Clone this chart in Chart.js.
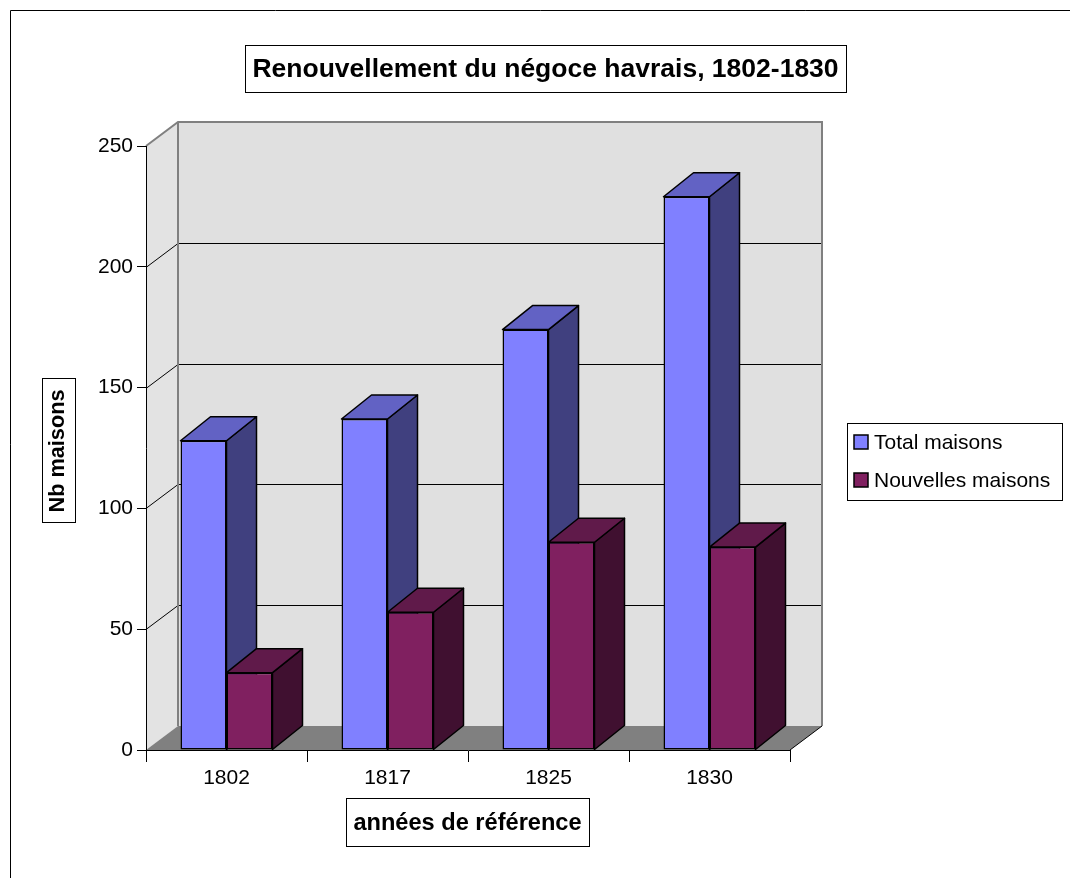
<!DOCTYPE html>
<html lang="fr">
<head>
<meta charset="utf-8">
<title>Renouvellement du négoce havrais, 1802-1830</title>
<script src="https://cdn.jsdelivr.net/npm/chart.js@4/dist/chart.umd.min.js"></script>
<style>
  html, body { margin: 0; padding: 0; background: #ffffff; }
  #wrap { width: 1070px; height: 878px; position: relative; }
</style>
</head>
<body>
<div id="wrap"><canvas id="c" width="1070" height="878"></canvas></div>
<script>
// Data
const years = ['1802', '1817', '1825', '1830'];
const totalMaisons = [128, 137, 174, 229];
const nouvellesMaisons = [32, 57, 86, 84];
const yTicks = [0, 50, 100, 150, 200, 250];

const chartTitle = 'Renouvellement du négoce havrais, 1802-1830';
const xTitle = 'années de référence';
const yTitle = 'Nb maisons';
const seriesNames = ['Total maisons', 'Nouvelles maisons'];

// Face colours: front, side, top
const faces = [
  { front: '#8080ff', side: '#40407f', top: '#6262c4' },
  { front: '#802060', side: '#401030', top: '#601a4a' }
];

const FONT = '"Liberation Sans", Arial, sans-serif';
const WALL_DX = 32, WALL_DY = -24;   // depth of walls / floor
const BAR_DX = 30, BAR_DY = -24;     // depth of the columns

function poly(ctx, pts, fill, stroke, lw) {
  ctx.beginPath();
  ctx.moveTo(pts[0][0], pts[0][1]);
  for (let i = 1; i < pts.length; i++) ctx.lineTo(pts[i][0], pts[i][1]);
  ctx.closePath();
  if (fill) { ctx.fillStyle = fill; ctx.fill(); }
  if (stroke) { ctx.strokeStyle = stroke; ctx.lineWidth = lw || 1; ctx.stroke(); }
}

function textBox(ctx, x, y, w, h, text, font, rotate) {
  ctx.save();
  ctx.fillStyle = '#ffffff';
  ctx.fillRect(x, y, w, h);
  ctx.strokeStyle = '#000000';
  ctx.lineWidth = 1;
  ctx.strokeRect(x + 0.5, y + 0.5, w, h);
  ctx.fillStyle = '#000000';
  ctx.font = font;
  ctx.textAlign = 'center';
  ctx.textBaseline = 'middle';
  ctx.translate(x + w / 2, y + h / 2 + 1);
  if (rotate) ctx.rotate(-Math.PI / 2);
  ctx.fillText(text, 0, 0);
  ctx.restore();
}

// Walls, floor and back gridlines (drawn beneath the axes)
const wallsPlugin = {
  id: 'walls3d',
  beforeDraw(chart) {
    const ctx = chart.ctx;
    const a = chart.chartArea;
    const ys = chart.scales.y;
    ctx.save();
    ctx.fillStyle = '#ffffff';
    ctx.fillRect(0, 0, chart.width, chart.height);

    // outer frame
    ctx.strokeStyle = '#000000';
    ctx.lineWidth = 1;
    ctx.beginPath();
    ctx.moveTo(10.5, chart.height);
    ctx.lineTo(10.5, 10.5);
    ctx.lineTo(chart.width, 10.5);
    ctx.stroke();

    const L = a.left, R = a.right, T = a.top, B = a.bottom;
    // side wall
    poly(ctx, [[L, T], [L + WALL_DX, T + WALL_DY], [L + WALL_DX, B + WALL_DY], [L, B]], '#e3e3e3');
    // back wall
    poly(ctx, [[L + WALL_DX, T + WALL_DY], [R + WALL_DX, T + WALL_DY], [R + WALL_DX, B + WALL_DY], [L + WALL_DX, B + WALL_DY]], '#e0e0e0');
    // floor
    poly(ctx, [[L, B], [R, B], [R + WALL_DX, B + WALL_DY], [L + WALL_DX, B + WALL_DY]], '#808080');

    // gridlines on side and back walls
    ctx.strokeStyle = '#000000';
    ctx.lineWidth = 1;
    yTicks.forEach(v => {
      if (v === 0 || v === 250) return;
      const y = Math.round(ys.getPixelForValue(v)) + 0.5;
      ctx.beginPath();
      ctx.moveTo(L, y);
      ctx.lineTo(L + WALL_DX, y + WALL_DY);
      ctx.lineTo(R + WALL_DX, y + WALL_DY);
      ctx.stroke();
    });

    // wall edges
    ctx.strokeStyle = '#808080';
    ctx.lineWidth = 2;
    ctx.beginPath();
    ctx.moveTo(L, T);
    ctx.lineTo(L + WALL_DX, T + WALL_DY);
    ctx.lineTo(R + WALL_DX, T + WALL_DY);
    ctx.lineTo(R + WALL_DX, B + WALL_DY);
    ctx.moveTo(L + WALL_DX, T + WALL_DY);
    ctx.lineTo(L + WALL_DX, B + WALL_DY);
    ctx.stroke();
    ctx.strokeStyle = '#000000';
    ctx.lineWidth = 1;
    ctx.beginPath();
    ctx.moveTo(R, B);
    ctx.lineTo(R + WALL_DX, B + WALL_DY);
    ctx.stroke();
    ctx.restore();
  },
  // side and top faces of each column, placed before the front faces
  beforeDatasetsDraw(chart) {
    const ctx = chart.ctx;
    ctx.save();
    ctx.lineJoin = 'round';
    chart.data.datasets.forEach((ds, di) => {
      const meta = chart.getDatasetMeta(di);
      const f = faces[di];
      meta.data.forEach(bar => {
        const p = bar.getProps(['x', 'y', 'base', 'width'], true);
        const l = p.x - p.width / 2, r = p.x + p.width / 2;
        const t = p.y, b = p.base;
        poly(ctx, [[r, t], [r + BAR_DX, t + BAR_DY], [r + BAR_DX, b + BAR_DY], [r, b]], f.side, '#000000', 1.5);
        poly(ctx, [[l, t], [l + BAR_DX, t + BAR_DY], [r + BAR_DX, t + BAR_DY], [r, t]], f.top, '#000000', 1.5);
      });
    });
    ctx.restore();
  },
  afterDraw(chart) {
    const ctx = chart.ctx;
    textBox(ctx, 245, 45, 601, 47, chartTitle, 'bold 26.5px ' + FONT, false);
    textBox(ctx, 42, 378, 33, 144, yTitle, 'bold 21.7px ' + FONT, true);
    textBox(ctx, 346, 798, 243, 48, xTitle, 'bold 23.6px ' + FONT, false);

    // legend
    ctx.save();
    ctx.fillStyle = '#ffffff';
    ctx.fillRect(847, 423, 215, 77);
    ctx.strokeStyle = '#000000';
    ctx.lineWidth = 1;
    ctx.strokeRect(847.5, 423.5, 215, 77);
    const rows = [442, 480];
    seriesNames.forEach((name, i) => {
      ctx.fillStyle = faces[i].front;
      ctx.fillRect(854, rows[i] - 7, 14, 14);
      ctx.strokeStyle = '#000000';
      ctx.lineWidth = 1.5;
      ctx.strokeRect(854, rows[i] - 7, 14, 14);
      ctx.fillStyle = '#000000';
      ctx.font = '21px ' + FONT;
      ctx.textAlign = 'left';
      ctx.textBaseline = 'middle';
      ctx.fillText(name, 874, rows[i] + 1);
    });
    ctx.restore();
  }
};

new Chart(document.getElementById('c'), {
  type: 'bar',
  data: {
    labels: years,
    datasets: [
      { label: seriesNames[0], data: totalMaisons, backgroundColor: faces[0].front },
      { label: seriesNames[1], data: nouvellesMaisons, backgroundColor: faces[1].front }
    ]
  },
  options: {
    responsive: false,
    animation: false,
    devicePixelRatio: 1,
    layout: { padding: { left: 0, top: 146, right: 280, bottom: 88 } },
    datasets: {
      bar: {
        barPercentage: 1,
        categoryPercentage: 92 / 161,
        borderColor: '#000000',
        borderWidth: 1.5,
        borderSkipped: false
      }
    },
    plugins: {
      legend: { display: false },
      title: { display: false },
      tooltip: { enabled: false }
    },
    scales: {
      x: {
        offset: true,
        afterFit(scale) { scale.height = 40; },
        grid: { offset: true, drawOnChartArea: false, color: '#000000', tickLength: 12, lineWidth: 1 },
        border: { display: true, color: '#000000', width: 1 },
        ticks: { color: '#000000', font: { family: FONT, size: 21 }, padding: 4, maxRotation: 0 }
      },
      y: {
        min: 0,
        max: 250,
        afterFit(scale) { scale.width = 146; },
        afterBuildTicks(scale) { scale.ticks = yTicks.map(v => ({ value: v })); },
        grid: { drawOnChartArea: false, color: '#000000', tickLength: 9, lineWidth: 1 },
        border: { display: true, color: '#000000', width: 1 },
        ticks: { color: '#000000', font: { family: FONT, size: 21 }, padding: 4 }
      }
    }
  },
  plugins: [wallsPlugin]
});
</script>
</body>
</html>
